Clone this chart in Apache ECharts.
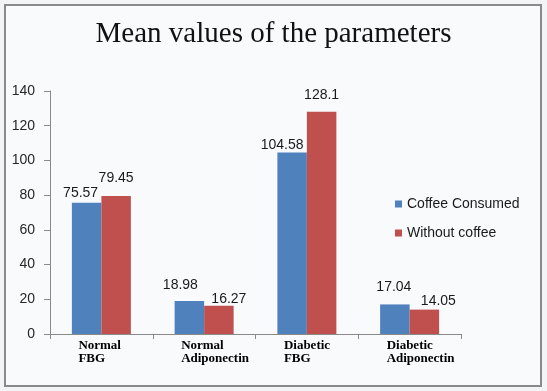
<!DOCTYPE html>
<html>
<head>
<meta charset="utf-8">
<script src="https://cdn.jsdelivr.net/npm/echarts@6/dist/echarts.min.js"></script>
<style>
html,body{margin:0;padding:0;background:#f3f4f5;}
#c{width:547px;height:391px;}
</style>
</head>
<body>
<div id="c"></div>
<script>
// ---- data ----
const categories = ['Normal\nFBG', 'Normal\nAdiponectin', 'Diabetic\nFBG', 'Diabetic\nAdiponectin'];
const seriesNames = ['Coffee Consumed', 'Without coffee'];
const coffeeConsumed = [75.57, 18.98, 104.58, 17.04];
const withoutCoffee = [79.45, 16.27, 128.1, 14.05];
const yTicks = { min: 0, max: 140, interval: 20 };

// label nudges (as placed in the reference, in px: [dx, dy])
const coffeeLabelNudge = [[-6, -3], [-9, -9], [-10, 0], [-1, -10]];
const withoutLabelNudge = [[0, -11], [10, 0], [0, -10], [14, -1]];

const chart = echarts.init(document.getElementById('c'), null, { renderer: 'canvas' });

function withLabels(values, nudges) {
  return values.map((v, i) => ({ value: v, label: { offset: nudges[i] } }));
}

const labelFont = { fontFamily: 'Liberation Sans', fontSize: 14, color: '#1a1a1a' };

chart.setOption({
  backgroundColor: '#f3f4f5',
  animation: false,
  graphic: [{
    type: 'rect',
    left: 4, top: 4, z: -10,
    shape: { width: 536, height: 381 },
    style: { fill: '#f9fafc', stroke: '#8a8a8a', lineWidth: 2 }
  }],
  title: {
    text: 'Mean values of the parameters',
    left: 'center',
    top: 20,
    padding: 0,
    textStyle: { fontFamily: 'Liberation Serif', fontSize: 29, fontWeight: 'normal', color: '#111' }
  },
  legend: {
    orient: 'vertical',
    left: 395,
    top: 197,
    padding: 0,
    itemWidth: 7,
    itemHeight: 7,
    itemGap: 15,
    icon: 'rect',
    data: seriesNames,
    textStyle: { fontFamily: 'Liberation Sans', fontSize: 14, color: '#1a1a1a' }
  },
  grid: { left: 50, right: 86, top: 91, bottom: 57, containLabel: false },
  xAxis: {
    type: 'category',
    data: categories,
    boundaryGap: true,
    axisLine: { lineStyle: { color: '#8a8a8a', width: 1 } },
    axisTick: { show: true, length: 5, interval: 0, lineStyle: { color: '#8a8a8a' } },
    axisLabel: {
      interval: 0,
      margin: 5,
      align: 'center',
      formatter: function (v) {
        const p = v.split('\n');
        return '{a|' + p[0] + '}\n{a|' + p[1] + '}';
      },
      rich: {
        a: {
          width: 46,
          align: 'left',
          lineHeight: 13,
          fontFamily: 'Liberation Serif',
          fontWeight: 'bold',
          fontSize: 13,
          color: '#000'
        }
      }
    }
  },
  yAxis: {
    type: 'value',
    min: yTicks.min,
    max: yTicks.max,
    interval: yTicks.interval,
    splitLine: { show: false },
    axisLine: { show: true, lineStyle: { color: '#8a8a8a', width: 1 } },
    axisTick: { show: true, length: 6, lineStyle: { color: '#8a8a8a' } },
    axisLabel: { margin: 15, fontFamily: 'Liberation Sans', fontSize: 14, color: '#262626' }
  },
  series: [
    {
      name: seriesNames[0],
      type: 'bar',
      barWidth: 29.5,
      barGap: '0%',
      itemStyle: { color: '#4F81BD' },
      label: Object.assign({ show: true, position: 'top', distance: 0 }, labelFont),
      data: withLabels(coffeeConsumed, coffeeLabelNudge)
    },
    {
      name: seriesNames[1],
      type: 'bar',
      barWidth: 29.5,
      barGap: '0%',
      itemStyle: { color: '#C0504D' },
      label: Object.assign({ show: true, position: 'top', distance: 0 }, labelFont),
      data: withLabels(withoutCoffee, withoutLabelNudge)
    }
  ]
});
</script>
</body>
</html>
